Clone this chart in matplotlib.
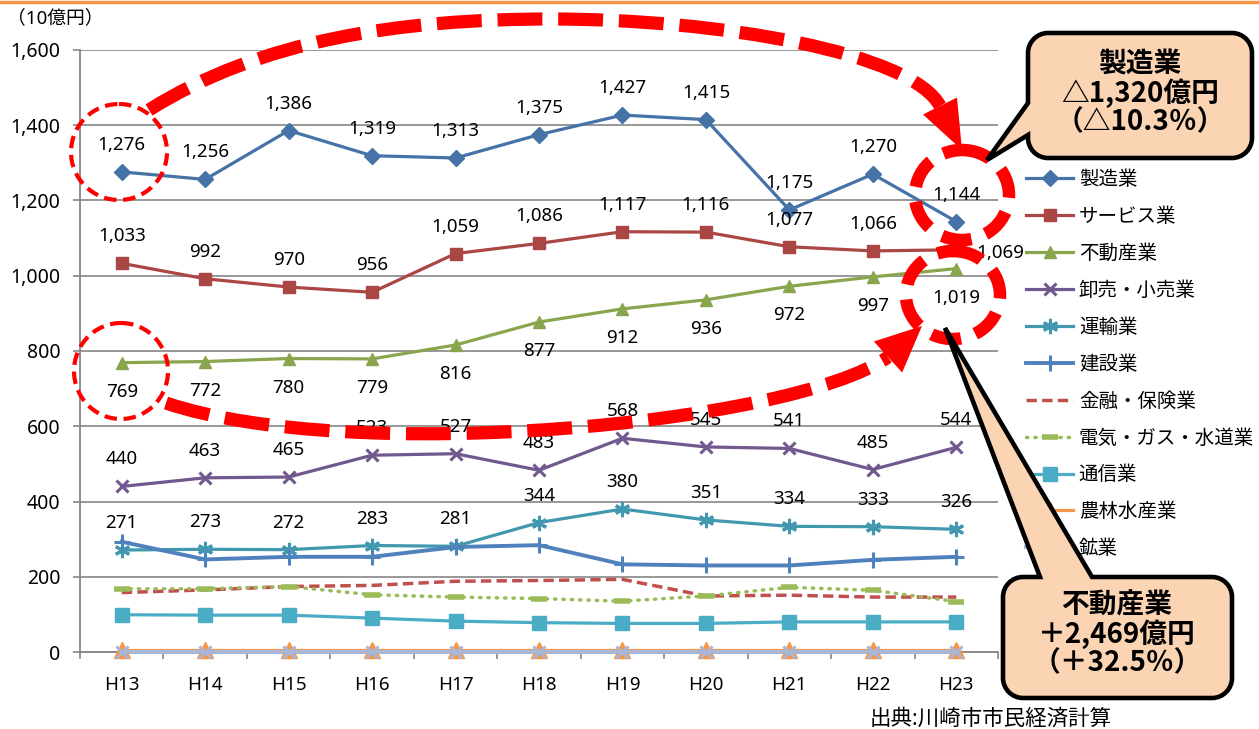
import numpy as np
import matplotlib
matplotlib.use("Agg")
import matplotlib.pyplot as plt
from matplotlib.path import Path
from matplotlib.patches import PathPatch, Ellipse, Polygon
from matplotlib.ticker import FuncFormatter, MultipleLocator, FixedLocator

plt.rcParams["font.family"] = ["Noto Sans", "Noto Sans CJK JP", "DejaVu Sans"]

# --- data (10億円) ---
years = ["H13", "H14", "H15", "H16", "H17", "H18", "H19", "H20", "H21", "H22", "H23"]
seizo = [1276, 1256, 1386, 1319, 1313, 1375, 1427, 1415, 1175, 1270, 1144]
service = [1033, 992, 970, 956, 1059, 1086, 1117, 1116, 1077, 1066, 1069]
fudosan = [769, 772, 780, 779, 816, 877, 912, 936, 972, 997, 1019]
oroshi = [440, 463, 465, 523, 527, 483, 568, 545, 541, 485, 544]
unyu = [271, 273, 272, 283, 281, 344, 380, 351, 334, 333, 326]
kensetsu = [293, 246, 253, 253, 279, 284, 233, 230, 230, 245, 253]
kinyu = [158, 165, 174, 177, 188, 190, 193, 149, 151, 146, 146]
denki = [168, 168, 174, 152, 146, 142, 135, 149, 172, 164, 134]
tsushin = [99, 98, 98, 90, 82, 78, 76, 76, 80, 80, 80]
norin = [5, 5, 5, 5, 5, 5, 5, 5, 5, 5, 5]
kogyo = [1, 1, 1, 1, 1, 1, 1, 1, 1, 1, 1]

W, H = 1259, 729
fig = plt.figure(figsize=(W / 100, H / 100), dpi=100)
ax = fig.add_axes([80 / W, 1 - 652 / H, (998 - 80) / W, (652 - 50) / H])
x = np.arange(len(years))

# name, values, color, marker, markersize, linewidth, linestyle, label position
series = [
    ("製造業", seizo, "#4572A7", "D", 8, 2.3, "-", "above"),
    ("サービス業", service, "#AA4643", "s", 9, 2.3, "-", "above"),
    ("不動産業", fudosan, "#89A54E", "^", 9, 2.3, "-", "below"),
    ("卸売・小売業", oroshi, "#71588F", "x", 9, 2.3, "-", "above"),
    ("運輸業", unyu, "#4198AF", (6, 2, 0), 11, 2.3, "-", "above"),
    ("建設業", kensetsu, "#4F81BD", "+", 12, 2.8, "-", None),
    ("金融・保険業", kinyu, "#C0504D", None, 0, 2.5, (0, (3.0, 1.5)), None),
    ("電気・ガス・水道業", denki, "#9BBB59", "_", 11, 2.5, (0, (0.4, 2.0)), None),
    ("通信業", tsushin, "#4BACC6", "s", 10, 2.3, "-", None),
    ("農林水産業", norin, "#F79646", "^", 11, 2.3, "-", None),
    ("鉱業", kogyo, "#A9B6D6", "x", 9, 3.0, "-", None),
]

for i, (name, vals, col, mk, ms, lw, ls, lab) in enumerate(series):
    line, = ax.plot(x, vals, color=col, lw=lw, linestyle=ls, marker=mk, markersize=ms,
                    markeredgewidth=2.2 if mk in ("x", "+", "_", (6, 2, 0)) else 1,
                    label=name, zorder=3 + i, clip_on=False,
                    dash_capstyle="round" if name.startswith("電気") else "butt")
    if mk == "_":
        line.set_markeredgewidth(4)
    if lab is None:
        continue
    for j, v in enumerate(vals):
        txt = f"{v:,}"
        if name == "サービス業" and j == len(vals) - 1:
            ax.annotate(txt, (j, v), xytext=(20, -3), textcoords="offset pixels",
                        ha="left", va="center", fontsize=13.5, zorder=20)
            continue
        dy = 27 if lab == "above" else -29
        ax.annotate(txt, (j, v), xytext=(0, dy), textcoords="offset pixels",
                    ha="center", va="center", fontsize=13.5, zorder=20)

ax.set_xlim(-0.5, len(years) - 0.5)
ax.set_ylim(0, 1600)
ax.yaxis.set_major_locator(MultipleLocator(200))
ax.yaxis.set_major_formatter(FuncFormatter(lambda v, p: f"{int(v):,}"))
ax.set_xticks(x)
ax.set_xticklabels(years)
ax.xaxis.set_minor_locator(FixedLocator(np.arange(-0.5, len(years), 1.0)))
ax.tick_params(axis="x", which="major", length=0, pad=17, labelsize=13.5)
ax.tick_params(axis="x", which="minor", length=5, width=1.2, color="#868686")
ax.tick_params(axis="y", length=5, width=1.2, color="#868686", labelsize=14, pad=9)
ax.grid(axis="y", color="#868686", lw=1.2)
ax.set_axisbelow(True)
for s in ("top", "right"):
    ax.spines[s].set_visible(False)
for s in ("left", "bottom"):
    ax.spines[s].set_color("#868686")
    ax.spines[s].set_linewidth(1.3)

ax.legend(loc="upper left", bbox_to_anchor=(1026 / W, 1 - 170 / H), bbox_transform=fig.transFigure,
          frameon=False, fontsize=14, handlelength=2.42, handletextpad=0.3,
          labelspacing=0.87, borderaxespad=0, borderpad=0, numpoints=1)

# --- overlay in pixel coordinates for annotations ---
ov = fig.add_axes([0, 0, 1, 1], zorder=10)
ov.set_xlim(0, W)
ov.set_ylim(H, 0)
ov.axis("off")

ov.plot([0, W], [1.5, 1.5], color="#F79646", lw=2.5)
ov.text(7, 18, "（10億円）", fontsize=13.5, va="center", ha="left")
ov.text(870, 719, "出典:川崎市市民経済計算", fontsize=15.5, va="center", ha="left")

red = "#FF0000"


def dashed_arrow(verts, tip, half):
    codes = [Path.MOVETO] + [Path.CURVE4] * (len(verts) - 1)
    ov.add_patch(PathPatch(Path(verts, codes), fill=False, edgecolor=red, lw=9.5,
                           linestyle=(0, (3.4, 1.2)), capstyle="butt"))
    base = np.array(verts[-1], float)
    tip = np.array(tip, float)
    d = (tip - base) / np.linalg.norm(tip - base)
    n = np.array([-d[1], d[0]])
    ov.add_patch(Polygon([base + n * half, tip, base - n * half], closed=True,
                         facecolor=red, edgecolor="none"))


dashed_arrow([(149, 110), (260, 40), (400, 19), (551, 19), (720, 19), (912, 53), (940, 106)],
             (962, 150), 19)
dashed_arrow([(166, 403), (350, 465), (790, 425), (888, 357)], (922, 326), 21)

for cx, cy, rx, ry, lw, dash in [
    (119, 152, 48, 48, 3.0, (3.0, 1.6)),
    (121, 371, 47, 48, 3.0, (3.0, 1.6)),
    (962, 195, 47, 45, 9.0, (2.4, 1.2)),
    (953, 295, 47, 44, 9.0, (2.4, 1.2)),
]:
    ov.add_patch(Ellipse((cx, cy), 2 * rx, 2 * ry, fill=False, edgecolor=red, lw=lw,
                         linestyle=(0, dash)))


def callout(x0, y0, x1, y1, r, edge, a, b, tip):
    k = 0.55
    v = [(x0 + r, y0)]
    c = [Path.MOVETO]
    if edge == "top":
        v += [(a, y0), tip, (b, y0)]
        c += [Path.LINETO] * 3
    v += [(x1 - r, y0), (x1 - r + k * r, y0), (x1, y0 + r - k * r), (x1, y0 + r)]
    c += [Path.LINETO, Path.CURVE4, Path.CURVE4, Path.CURVE4]
    v += [(x1, y1 - r), (x1, y1 - r + k * r), (x1 - r + k * r, y1), (x1 - r, y1)]
    c += [Path.LINETO, Path.CURVE4, Path.CURVE4, Path.CURVE4]
    v += [(x0 + r, y1), (x0 + r - k * r, y1), (x0, y1 - r + k * r), (x0, y1 - r)]
    c += [Path.LINETO, Path.CURVE4, Path.CURVE4, Path.CURVE4]
    if edge == "left":
        v += [(x0, b), tip, (x0, a)]
        c += [Path.LINETO] * 3
    v += [(x0, y0 + r), (x0, y0 + r - k * r), (x0 + r - k * r, y0), (x0 + r, y0)]
    c += [Path.LINETO, Path.CURVE4, Path.CURVE4, Path.CURVE4]
    v.append((x0 + r, y0))
    c.append(Path.CLOSEPOLY)
    ov.add_patch(PathPatch(Path(v, c), facecolor="#FBD4B4", edgecolor="black", lw=3.3,
                           joinstyle="miter"))


callout(1028, 33, 1252, 158, 20, "left", 103, 135, (987, 160))
callout(1003, 577, 1232, 698, 20, "top", 1040, 1092, (945, 328))

bold = dict(family=["Noto Sans CJK JP"], weight="bold", fontsize=20, ha="center",
            va="center", linespacing=1.0)
ov.text(1140, 93, "製造業\n△1,320億円\n（△10.3％）", **bold)
ov.text(1117, 634, "不動産業\n＋2,469億円\n（＋32.5％）", **bold)

fig.savefig("out.png", dpi=100)
